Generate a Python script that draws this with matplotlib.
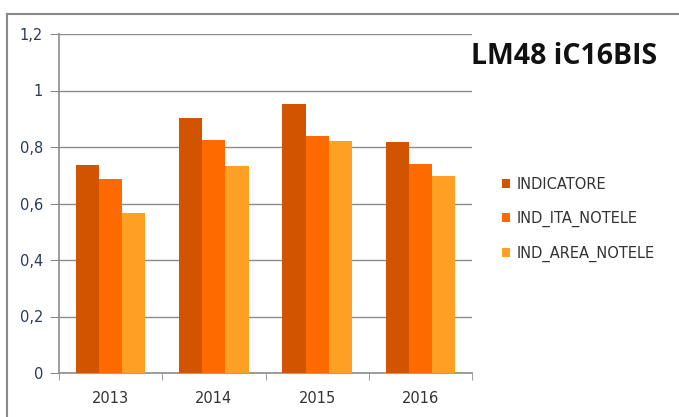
import matplotlib
matplotlib.use("Agg")
import matplotlib.pyplot as plt
from matplotlib.lines import Line2D
import numpy as np

years = ["2013", "2014", "2015", "2016"]
indicatore = [0.736, 0.904, 0.953, 0.818]
ind_ita_notele = [0.685, 0.826, 0.839, 0.741]
ind_area_notele = [0.567, 0.734, 0.822, 0.698]
series_names = ["INDICATORE", "IND_ITA_NOTELE", "IND_AREA_NOTELE"]
colors = ["#D35400", "#FF6A00", "#FFA024"]
yticks = [0, 0.2, 0.4, 0.6, 0.8, 1.0, 1.2]
ytick_labels = ["0", "0,2", "0,4", "0,6", "0,8", "1", "1,2"]

W, H = 679, 417
fig = plt.figure(figsize=(W / 100, H / 100), dpi=100)
fig.patch.set_facecolor("white")

# outer chart frame (left + top visible)
fig.add_artist(Line2D([7 / W, 7 / W], [0, 1 - 14 / H], color="#8a8a8a", lw=1.5,
                      transform=fig.transFigure))
fig.add_artist(Line2D([7 / W, 1], [1 - 14 / H, 1 - 14 / H], color="#8a8a8a", lw=1.5,
                      transform=fig.transFigure))

# plot area in pixels: x 59..472, y 34..373
ax = fig.add_axes([59 / W, 1 - 373 / H, (472 - 59) / W, (373 - 34) / H])
ax.set_facecolor("white")

x = np.arange(len(years))
bw = 0.224
for i, (vals, name, c) in enumerate(zip([indicatore, ind_ita_notele, ind_area_notele],
                                         series_names, colors)):
    ax.bar(x + (i - 1) * bw, vals, width=bw, color=c, label=name, zorder=3)

ax.set_xlim(-0.5, 3.5)
ax.set_ylim(0, 1.2)
ax.set_yticks(yticks)
ax.set_yticklabels(ytick_labels)
ax.yaxis.grid(True, color="#8c8c8c", lw=1.0, zorder=0)
ax.set_axisbelow(True)

ax.set_xticks(x)
ax.set_xticklabels(years)
ax.set_xticks(np.arange(-0.5, 4, 1), minor=True)
ax.tick_params(axis="x", which="major", length=0, pad=13, labelsize=10.5, labelcolor="#333333")
ax.tick_params(axis="x", which="minor", length=5, direction="out", color="#8c8c8c")
ax.tick_params(axis="y", length=6.5, direction="out", color="#8c8c8c", pad=5,
               labelsize=10.5, labelcolor="#2b3a55")

for s in ["top", "right"]:
    ax.spines[s].set_visible(False)
ax.spines["left"].set_color("#8c8c8c")
ax.spines["bottom"].set_color("#8c8c8c")
ax.spines["left"].set_linewidth(1.2)
ax.spines["bottom"].set_linewidth(1.2)

fig.text(564 / W, 1 - 57 / H, "LM48 iC16BIS", ha="center", va="center",
         fontsize=20.5, fontweight="bold", family="Open Sans", color="#111111")

leg = fig.legend(loc="upper left", bbox_to_anchor=(496 / W, 1 - 171 / H),
                 frameon=False, fontsize=10.5, handlelength=0.55, handleheight=0.55,
                 handletextpad=0.45, labelspacing=1.28, borderaxespad=0)
for t in leg.get_texts():
    t.set_color("#333333")

fig.savefig("out.png", dpi=100)
